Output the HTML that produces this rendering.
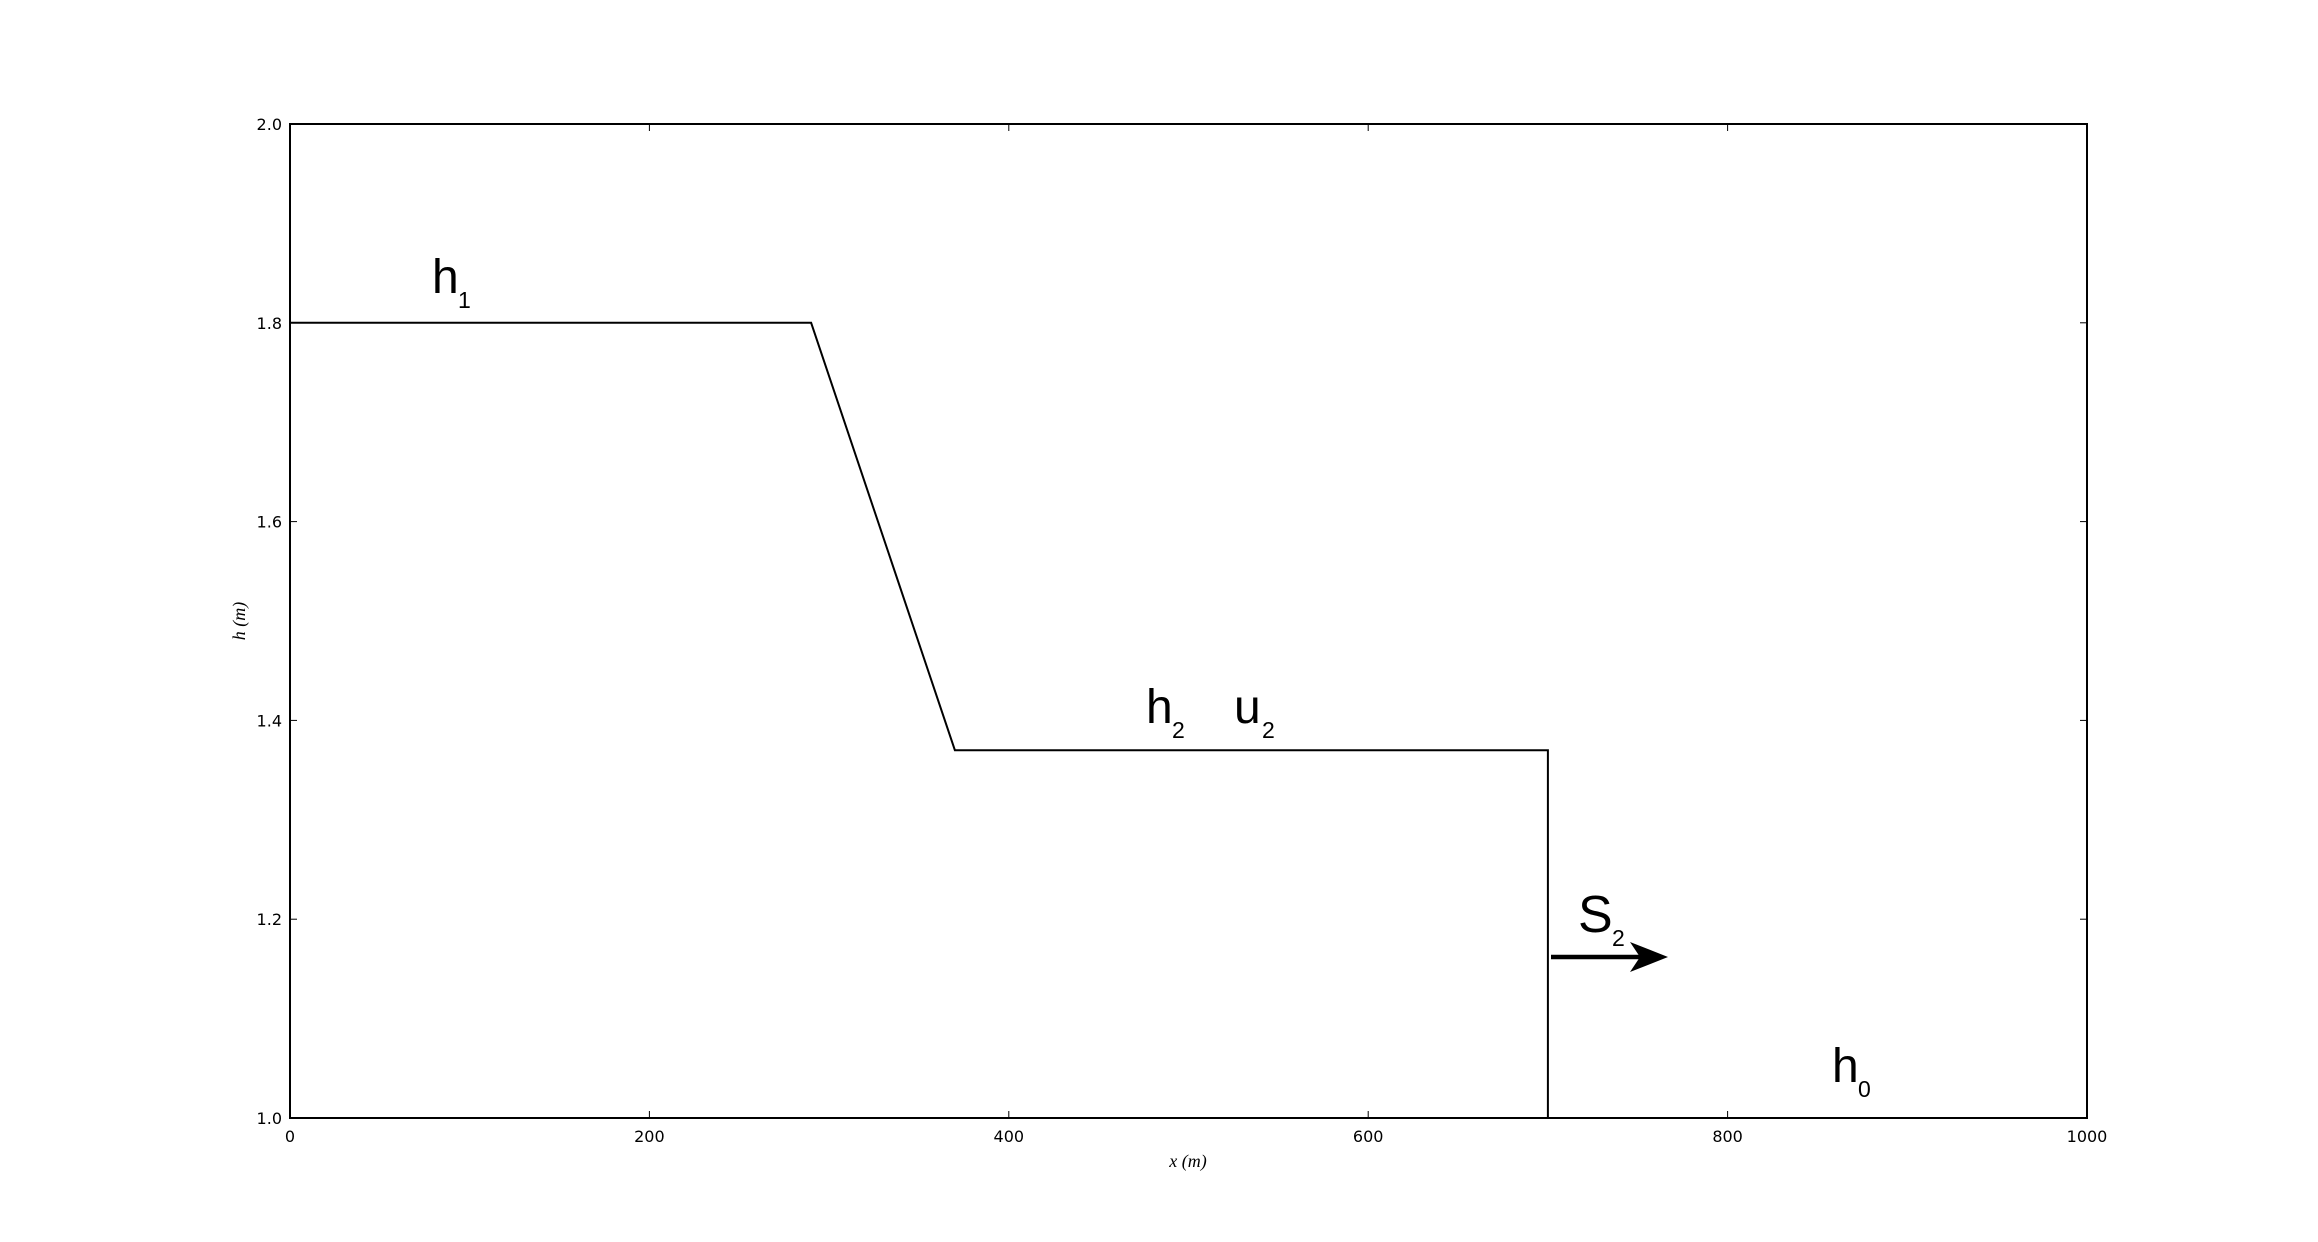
<!DOCTYPE html>
<html><head><meta charset="utf-8"><style>
html,body{margin:0;padding:0;background:#fff}
svg{display:block}
.tk{font-family:"DejaVu Sans","Liberation Sans",sans-serif}
.big{font-family:"Liberation Sans",sans-serif}
.ax{font-family:"Liberation Serif",serif;font-style:italic}
</style></head><body>
<svg id="chart" width="2318" height="1242" viewBox="0 0 2318 1242" xmlns="http://www.w3.org/2000/svg">
<rect width="2318" height="1242" fill="#fff"/>
<g id="ticks"></g>
<polyline id="series" fill="none" stroke="#000" stroke-width="2"/>
<rect x="290" y="124" width="1797" height="994" fill="none" stroke="#000" stroke-width="2"/>
<text class="ax" x="1188" y="1167" font-size="18" text-anchor="middle">x (m)</text>
<text class="ax" transform="translate(245,621) rotate(-90)" font-size="18" text-anchor="middle">h (m)</text>
<g class="big"><text x="432" y="293" font-size="48">h</text><text x="458" y="308" font-size="23">1</text></g>
<g class="big"><text x="1146" y="723" font-size="48">h</text><text x="1172" y="738" font-size="23">2</text></g>
<g class="big"><text x="1234" y="723" font-size="48">u</text><text x="1262" y="738" font-size="23">2</text></g>
<g class="big"><text x="1832" y="1082" font-size="48">h</text><text x="1858" y="1097" font-size="23">0</text></g>
<g class="big"><text x="1578" y="932" font-size="52">S</text><text x="1612" y="946" font-size="23">2</text></g>
<g>
<line x1="1551" y1="957" x2="1640" y2="957" stroke="#000" stroke-width="4.5"/>
<path d="M1668,957 L1630,942 L1640,957 L1630,972 Z" fill="#000"/>
</g>
</svg>
<script>
const xValues=[0,290,370,700,700,1000];
const hValues=[1.8,1.8,1.37,1.37,1.0,1.0];
const xTicks=[0,200,400,600,800,1000];
const yTicks=[1.0,1.2,1.4,1.6,1.8,2.0];
const yTickLabels=["1.0","1.2","1.4","1.6","1.8","2.0"];
const X0=290,X1=2087,Y0=1118,Y1=124;
function sx(v){return X0+(v-0)/(1000-0)*(X1-X0);}
function sy(v){return Y0-(v-1.0)/(2.0-1.0)*(Y0-Y1);}
const NS="http://www.w3.org/2000/svg";
document.getElementById('series').setAttribute('points',xValues.map((x,i)=>sx(x)+','+sy(hValues[i])).join(' '));
const g=document.getElementById('ticks');
function mk(tag,attrs){const e=document.createElementNS(NS,tag);for(const k in attrs)e.setAttribute(k,attrs[k]);g.appendChild(e);return e;}
xTicks.forEach(v=>{
  const x=sx(v);
  const a=mk('line',{x1:x,y1:Y0,x2:x,y2:Y0-7,stroke:'#000','stroke-width':1});
  
  
  const b=mk('line',{x1:x,y1:Y1,x2:x,y2:Y1+7,stroke:'#000','stroke-width':1});
  
  
  const t=mk('text',{x:x,y:Y0+24,'font-size':16,'text-anchor':'middle','class':'tk'});
  t.textContent=String(v);
  
  
});
yTicks.forEach((v,i)=>{
  const y=sy(v);
  const a=mk('line',{x1:X0,y1:y,x2:X0+7,y2:y,stroke:'#000','stroke-width':1});
  
  
  const b=mk('line',{x1:X1,y1:y,x2:X1-7,y2:y,stroke:'#000','stroke-width':1});
  
  
  const t=mk('text',{x:X0-8,y:y+6,'font-size':16,'text-anchor':'end','class':'tk'});
  t.textContent=yTickLabels[i];
  
  
});
</script>
</body></html>
